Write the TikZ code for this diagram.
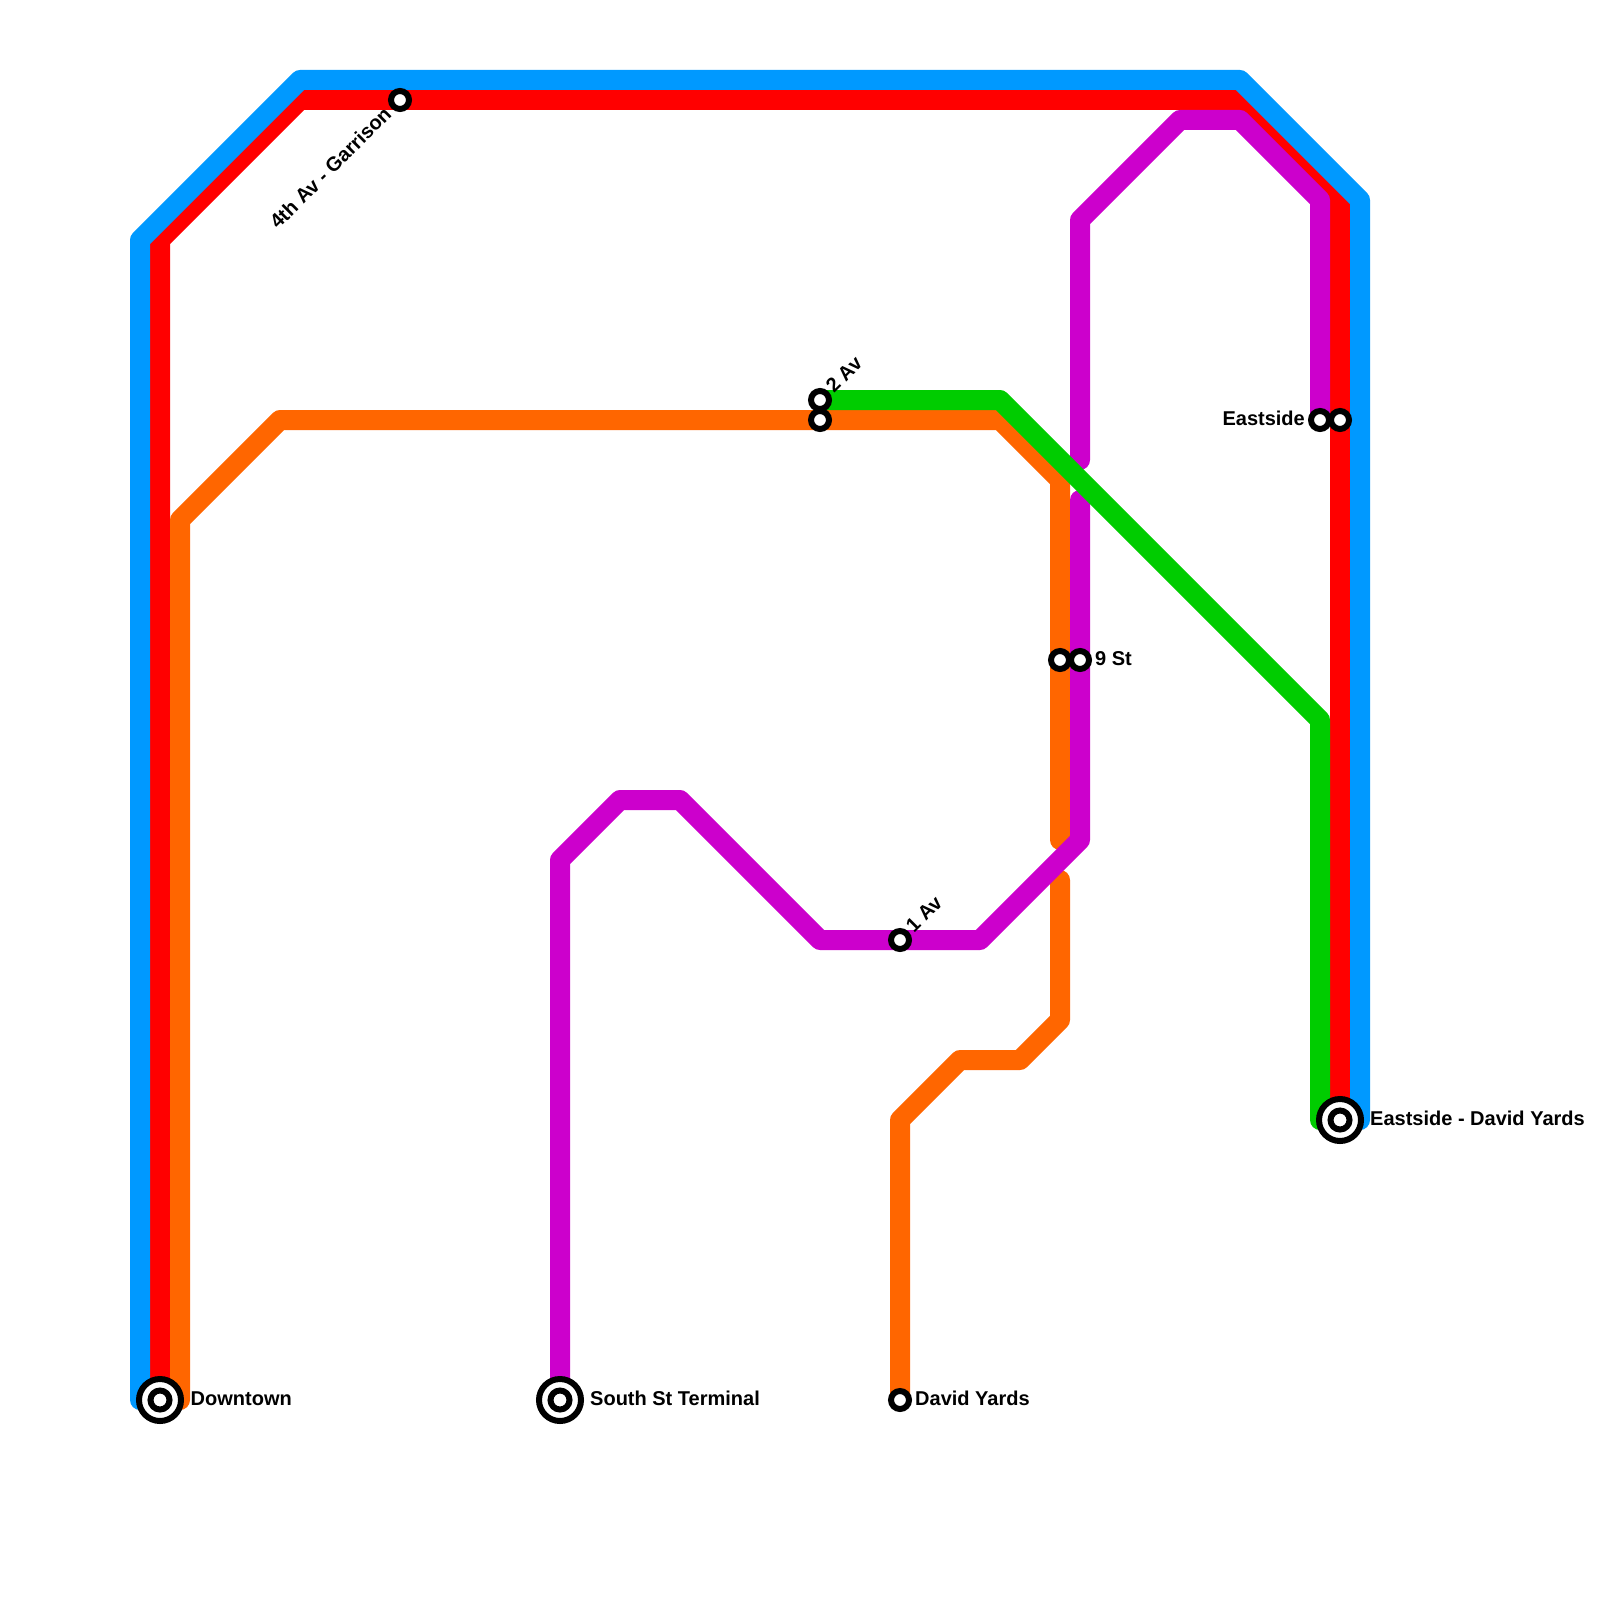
\documentclass[tikz,border=0pt]{standalone}
\usepackage{fontspec}
\setmainfont{Liberation Sans}
\definecolor{lblue}{HTML}{0099FF}
\definecolor{lred}{HTML}{FF0000}
\definecolor{lorange}{HTML}{FF6600}
\definecolor{lpurple}{HTML}{CC00CC}
\definecolor{lgreen}{HTML}{00CC00}
\tikzset{
  metro/.style={line width=20pt,line cap=round,line join=round},
  stn/.style={circle,draw=black,fill=white,line width=6pt,minimum size=18pt,inner sep=0pt,outer sep=0pt},
  termouter/.style={circle,draw=black,fill=white,line width=6pt,minimum size=42pt,inner sep=0pt,outer sep=0pt},
  terminner/.style={circle,draw=black,fill=white,line width=6pt,minimum size=19pt,inner sep=0pt,outer sep=0pt},
  lbl/.style={font=\bfseries\fontsize{20}{22}\selectfont,text=black,inner sep=0pt}
}
\begin{document}
\begin{tikzpicture}[x=1pt,y=-1pt]
\useasboundingbox (0,0) rectangle (1600,1600);
\fill[white] (0,0) rectangle (1600,1600);
% station positions
\coordinate (downtown) at (160,1400);
\coordinate (south) at (560,1400);
\coordinate (yards) at (900,1400);
\coordinate (david) at (1340,1120);
\coordinate (fourth) at (400,100);
\coordinate (twoA) at (820,400);
\coordinate (twoB) at (820,420);
\coordinate (oneAv) at (900,940);
\coordinate (nineA) at (1060,660);
\coordinate (nineB) at (1080,660);
\coordinate (eastA) at (1320,420);
\coordinate (eastB) at (1340,420);
% lines
\draw[metro,lred] (downtown) -- (160,240) -- (300,100) -- (fourth) -- (1240,100) -- (1340,200) -- (eastB) -- (david);
\draw[metro,lorange] (180,1400) -- (180,520) -- (280,420) -- (twoB) -- (1000,420) -- (1060,480) -- (nineA) -- (1060,840);
\draw[metro,lorange] (1060,880) -- (1060,1020) -- (1020,1060) -- (960,1060) -- (900,1120) -- (yards);
\draw[metro,lpurple] (1080,460) -- (1080,220) -- (1180,120) -- (1240,120) -- (1320,200) -- (eastA);
\draw[metro,lpurple] (1080,500) -- (nineB) -- (1080,840) -- (980,940) -- (oneAv) -- (820,940) -- (680,800) -- (620,800) -- (560,860) -- (south);
\draw[metro,lgreen] (twoA) -- (1000,400) -- (1320,720) -- (1320,1120);
\draw[metro,lblue] (140,1400) -- (140,240) -- (300,80) -- (1240,80) -- (1360,200) -- (1360,1120);
% stations
\node[stn] (sFourth) at (fourth) {};
\node[stn] (sTwoA) at (twoA) {};
\node[stn] (sTwoB) at (twoB) {};
\node[stn] (sOne) at (oneAv) {};
\node[stn] (sNineA) at (nineA) {};
\node[stn] (sNineB) at (nineB) {};
\node[stn] (sEastA) at (eastA) {};
\node[stn] (sEastB) at (eastB) {};
\node[stn] (sYards) at (yards) {};
\node[termouter] (tDown) at (downtown) {};
\node[terminner] (tDownI) at (downtown) {};
\node[termouter] (tSouth) at (south) {};
\node[terminner] (tSouthI) at (south) {};
\node[termouter] (tDavid) at (david) {};
\node[terminner] (tDavidI) at (david) {};
% labels
\node[lbl,anchor=base west] (lDown) at (190.5,1405) {Downtown};
\node[lbl,anchor=base west] (lSouth) at (590,1405) {South St Terminal};
\node[lbl,anchor=base west] (lYards) at (915,1405) {David Yards};
\node[lbl,anchor=base west] (lDavid) at (1370,1125) {Eastside - David Yards};
\node[lbl,anchor=base west] (lNine) at (1095,665) {9 St};
\node[lbl,anchor=base east] (lEast) at (1305,425) {Eastside};
\node[lbl,anchor=east,rotate=45] (lFourth) at (387.5,110.5) {4th Av - Garrison};
\node[lbl,anchor=west,rotate=45] (lTwo) at (829,389) {2 Av};
\node[lbl,anchor=west,rotate=45] (lOne) at (909,929) {1 Av};
\end{tikzpicture}
\end{document}
